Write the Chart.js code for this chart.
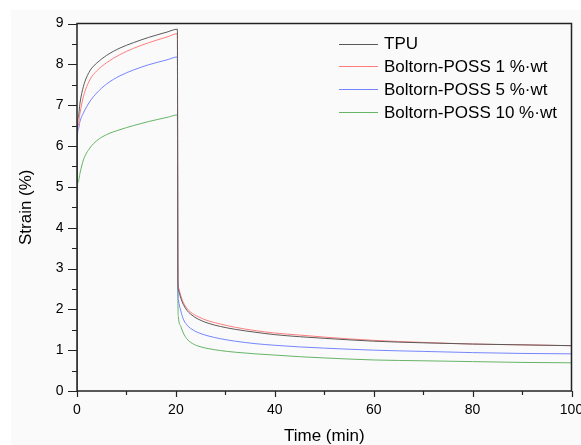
<!DOCTYPE html>
<html>
<head>
<meta charset="utf-8">
<script src="https://cdn.jsdelivr.net/npm/chart.js@4/dist/chart.umd.min.js"></script>
<style>
  html, body { margin: 0; padding: 0; background: #ffffff; overflow: hidden; }
  #box { position: absolute; left: 11px; top: 10px; width: 570px; height: 435px; background: #fafafa; }
</style>
</head>
<body>
<div id="box"><canvas id="grafico"></canvas></div>
<script>
const tiempo = [0, 0.05, 0.25, 0.6, 1.3, 2.6, 4, 6, 8.7, 11.4, 14.5, 18.2, 20.3, 20.4, 20.5, 21, 21.5, 22.2, 23, 24.5, 26.5, 29, 32, 36, 40, 45, 50, 60, 70, 80, 90, 100];
const tpu    = [0, 6.3, 6.7, 7.05, 7.46, 7.84, 8.03, 8.22, 8.40, 8.53, 8.66, 8.79, 8.86, 2.75, 2.48, 2.27, 2.12, 1.98, 1.88, 1.76, 1.66, 1.58, 1.51, 1.44, 1.38, 1.33, 1.29, 1.22, 1.18, 1.15, 1.13, 1.11];
const poss1  = [0, 6.1, 6.5, 6.8, 7.21, 7.62, 7.84, 8.04, 8.24, 8.39, 8.53, 8.67, 8.75, 2.8, 2.55, 2.33, 2.17, 2.03, 1.93, 1.82, 1.72, 1.64, 1.56, 1.48, 1.42, 1.37, 1.32, 1.24, 1.19, 1.15, 1.13, 1.11];
const poss5  = [0, 6.05, 6.4, 6.6, 6.81, 7.09, 7.3, 7.52, 7.72, 7.86, 7.99, 8.11, 8.18, 2.6, 2.23, 1.96, 1.76, 1.62, 1.53, 1.43, 1.35, 1.28, 1.22, 1.16, 1.12, 1.08, 1.05, 1.00, 0.97, 0.94, 0.92, 0.91];
const poss10 = [0, 4.9, 5.12, 5.33, 5.66, 5.95, 6.13, 6.28, 6.40, 6.50, 6.60, 6.70, 6.76, 2.3, 1.82, 1.58, 1.42, 1.28, 1.19, 1.10, 1.04, 0.99, 0.95, 0.91, 0.88, 0.84, 0.81, 0.76, 0.74, 0.72, 0.70, 0.69];
const etiquetas = ["TPU", "Boltorn-POSS 1 %\u00b7wt", "Boltorn-POSS 5 %\u00b7wt", "Boltorn-POSS 10 %\u00b7wt"];
const colores = ["#5a5a5a", "#ff7d7d", "#7585ff", "#66b466"];

const fuente = "'Liberation Sans', Arial, sans-serif";
const puntos = (ys) => tiempo.map((t, i) => ({x: t, y: ys[i]}));

const serie = (idx, ys) => ({
  label: etiquetas[idx],
  data: puntos(ys),
  borderColor: colores[idx],
  borderWidth: 1,
  pointRadius: 0,
  cubicInterpolationMode: 'monotone',
  fill: false,
});

// marco, ticks menores y leyenda dentro del area
const marco = {
  id: 'marco',
  afterDraw(chart) {
    const {ctx, chartArea: a, scales: {x, y}} = chart;
    ctx.save();
    ctx.strokeStyle = '#222';
    ctx.lineWidth = 1.5;
    ctx.strokeRect(a.left, a.top, a.right - a.left, a.bottom - a.top);
    ctx.lineWidth = 1.2;
    ctx.beginPath();
    for (let v = 0; v <= 9; v += 0.5) {
      const py = Math.round(y.getPixelForValue(v)) + 0.5;
      const len = Number.isInteger(v) ? 9 : 5;
      ctx.moveTo(a.left - len, py);
      ctx.lineTo(a.left, py);
    }
    for (let v = 0; v <= 100; v += 10) {
      const px = Math.round(x.getPixelForValue(v)) + 0.5;
      const len = v % 20 === 0 ? 6 : 4;
      ctx.moveTo(px, a.bottom);
      ctx.lineTo(px, a.bottom + len);
    }
    ctx.stroke();
    ctx.restore();
  },
  afterDatasetsDraw(chart) {
    const {ctx, chartArea: a} = chart;
    ctx.save();
    ctx.font = "17px " + fuente;
    ctx.textBaseline = 'middle';
    ctx.fillStyle = '#000';
    chart.data.datasets.forEach((ds, i) => {
      const yy = a.top + 20 + i * 22.8;
      ctx.strokeStyle = ds.borderColor;
      ctx.lineWidth = 1;
      ctx.beginPath();
      ctx.moveTo(a.left + 262, Math.round(yy) + 0.5);
      ctx.lineTo(a.left + 301, Math.round(yy) + 0.5);
      ctx.stroke();
      ctx.fillText(ds.label, a.left + 307, yy + 1);
    });
    ctx.restore();
  }
};

const config = {
  type: 'line',
  data: {
    datasets: [serie(0, tpu), serie(1, poss1), serie(2, poss5), serie(3, poss10)],
  },
  options: {
    responsive: true,
    maintainAspectRatio: false,
    animation: false,
    layout: { padding: { top: 13.5, right: 9.5, left: 0, bottom: 0 } },
    plugins: { legend: { display: false }, tooltip: { enabled: false } },
    scales: {
      x: {
        type: 'linear',
        min: 0, max: 100,
        border: { display: false },
        grid: { display: true, drawOnChartArea: false, drawTicks: false, color: 'transparent' },
        ticks: {
          stepSize: 10, autoSkip: false, maxRotation: 0, padding: 11,
          color: '#000', font: { family: fuente, size: 14 },
          callback: (v) => (v % 20 === 0 ? v : ''),
        },
        title: { display: true, text: 'Time (min)', color: '#000',
                 font: { family: fuente, size: 17, lineHeight: 1 }, padding: { top: 0, bottom: 0 } },
        afterFit(s) { s.height = 54; s.paddingLeft = 0; s.paddingRight = 0; },
      },
      y: {
        min: 0, max: 9,
        border: { display: false },
        grid: { display: true, drawOnChartArea: false, drawTicks: false, color: 'transparent' },
        ticks: {
          stepSize: 0.5, autoSkip: false, padding: 13.5,
          color: '#000', font: { family: fuente, size: 14 },
          callback: (v) => (Number.isInteger(v) ? v : ''),
        },
        title: { display: true, text: 'Strain (%)', color: '#000',
                 font: { family: fuente, size: 17, lineHeight: 1 }, padding: { top: 6.5, bottom: 0 } },
        afterFit(s) { s.width = 66; s.paddingTop = 0; s.paddingBottom = 0; },
      },
    },
  },
  plugins: [marco],
};

const myChart = new Chart(document.getElementById('grafico'), config);
</script>
</body>
</html>
